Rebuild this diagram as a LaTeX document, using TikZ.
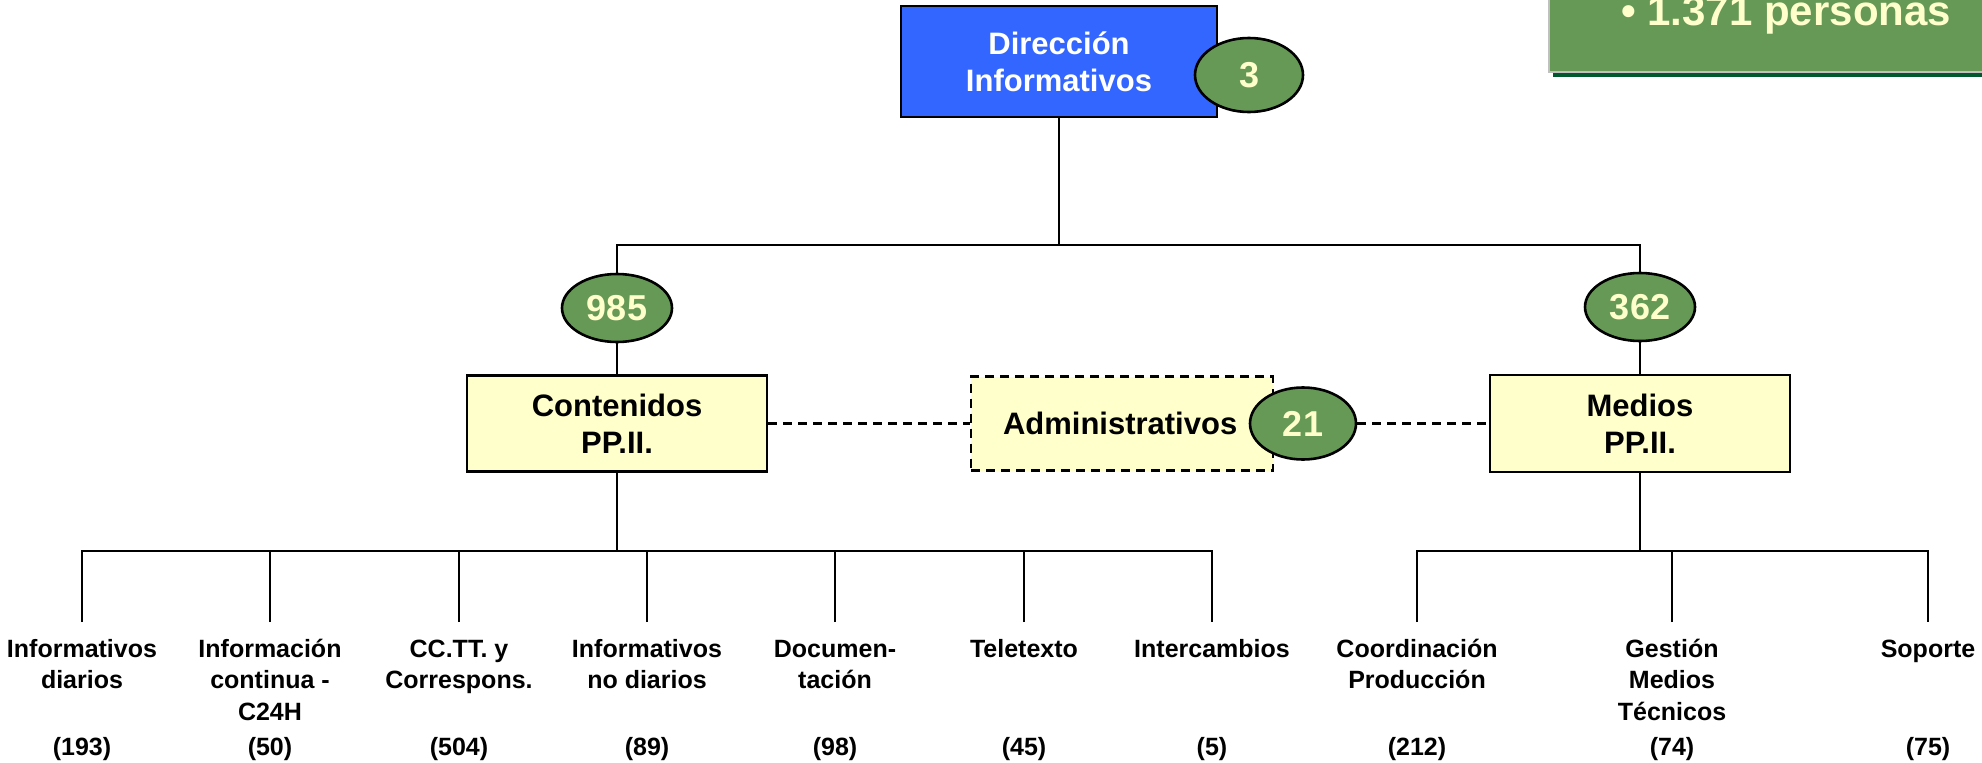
\documentclass[tikz,border=0pt]{standalone}
\usepackage{fontspec}
\setmainfont{Liberation Sans}
\usetikzlibrary{shapes.geometric}
\definecolor{boxblue}{HTML}{3366FF}
\definecolor{boxyellow}{HTML}{FFFFCC}
\definecolor{ovgreen}{HTML}{669955}
\definecolor{numyellow}{HTML}{FFFFCC}
\definecolor{shadowgreen}{HTML}{00592E}
\definecolor{bordergray}{HTML}{C0C0C0}
\tikzset{
  conn/.style={line width=2.8pt},
  dconn/.style={line width=2.4pt, dash pattern=on 9pt off 6pt},
  unitbox/.style={draw=black, line width=2.8pt, rectangle, inner sep=0pt, align=center,
     font=\fontsize{31}{37}\selectfont\bfseries},
  countov/.style={ellipse, draw=black, line width=2.6pt, fill=ovgreen, inner sep=0pt,
     text=numyellow, font=\fontsize{36}{40}\selectfont\bfseries},
  leaf/.style={anchor=north, inner sep=0pt, align=center, font=\fontsize{25}{31.5}\selectfont\bfseries},
  leafnum/.style={anchor=base, inner sep=0pt, font=\fontsize{25}{31}\selectfont\bfseries}
}
\newcommand{\lstrut}{\rule{0pt}{35pt}}
\begin{document}
\begin{tikzpicture}[x=1pt,y=-1pt]
\useasboundingbox (0,0) rectangle (1982,763);
\fill[white] (0,0) rectangle (1982,763);

% top-right summary box
\fill[shadowgreen] (1553,70) rectangle (1990,77);
\draw[bordergray, line width=2.5pt, fill=ovgreen] (1549,-10) rectangle (1990,72);
\node[anchor=base west, inner sep=0pt, text=numyellow, font=\fontsize{42}{44}\selectfont\bfseries]
  (total) at (1621,25) {\textbullet\ 1.371 personas};

% main boxes
\node[unitbox, fill=boxblue, text=white, minimum width=316pt, minimum height=111pt]
  (dir) at (1059,61.5) {Dirección\\Informativos};
\node[countov, minimum width=108pt, minimum height=74pt] (e3) at (1249,75) {3};

\node[unitbox, fill=boxyellow, minimum width=300pt, minimum height=96pt]
  (cont) at (617,423.5) {Contenidos\\PP.II.};
\node[unitbox, fill=boxyellow, minimum width=300pt, minimum height=97pt]
  (med) at (1640,423.5) {Medios\\PP.II.};
\node[unitbox, fill=boxyellow, dash pattern=on 9pt off 6pt, line width=2.4pt,
  minimum width=302pt, minimum height=94pt, text width=290pt, align=left]
  (adm) at (1122,423.5) {\hspace*{26pt}Administrativos};

\node[countov, minimum width=110pt, minimum height=68pt] (e985) at (617,308) {985};
\node[countov, minimum width=110pt, minimum height=68pt] (e362) at (1640,307) {362};
\node[countov, minimum width=106pt, minimum height=72pt] (e21) at (1303,423.5) {21};

% top connectors
\coordinate (jtop) at (1059,245);
\draw[conn] (dir.south) -- (jtop);
\draw[conn] (e985.north) |- (jtop) -| (e362.north);
\draw[conn] (e985.south) -- (cont.north);
\draw[conn] (e362.south) -- (med.north);

% dashed links
\draw[dconn] (cont.east) -- (adm.west);
\draw[dconn] (e21.east) -- (med.west);

% leaves - contenidos
\node[leaf] (l1) at (82,622) {\lstrut Informativos\\diarios};
\node[leaf] (l2) at (270,622) {\lstrut Información\\continua -\\C24H};
\node[leaf] (l3) at (459,622) {\lstrut CC.TT. y\\Correspons.};
\node[leaf] (l4) at (647,622) {\lstrut Informativos\\no diarios};
\node[leaf] (l5) at (835,622) {\lstrut Documen-\\tación};
\node[leaf] (l6) at (1024,622) {\lstrut Teletexto};
\node[leaf] (l7) at (1212,622) {\lstrut Intercambios};
% leaves - medios
\node[leaf] (l8) at (1417,622) {\lstrut Coordinación\\Producción};
\node[leaf] (l9) at (1672,622) {\lstrut Gestión\\Medios\\Técnicos};
\node[leaf] (l10) at (1928,622) {\lstrut Soporte};

% counts
\node[leafnum] (c1) at (82,755) {(193)};
\node[leafnum] (c2) at (270,755) {(50)};
\node[leafnum] (c3) at (459,755) {(504)};
\node[leafnum] (c4) at (647,755) {(89)};
\node[leafnum] (c5) at (835,755) {(98)};
\node[leafnum] (c6) at (1024,755) {(45)};
\node[leafnum] (c7) at (1212,755) {(5)};
\node[leafnum] (c8) at (1417,755) {(212)};
\node[leafnum] (c9) at (1672,755) {(74)};
\node[leafnum] (c10) at (1928,755) {(75)};

% bus connectors
\coordinate (busL) at (617,551);
\coordinate (busR) at (1640,551);
\draw[conn] (cont.south) -- (busL);
\draw[conn] (l1.north) |- (busL) -| (l7.north);
\foreach \n in {2,...,6} {\draw[conn] (l\n.north) -- (l\n.north |- busL);}
\draw[conn] (med.south) -- (busR);
\draw[conn] (l8.north) |- (busR) -| (l10.north);
\draw[conn] (l9.north) -- (l9.north |- busR);
\end{tikzpicture}
\end{document}
